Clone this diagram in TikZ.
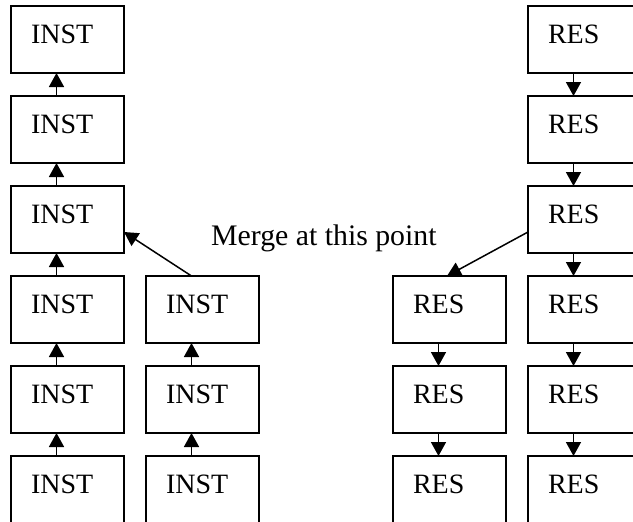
\documentclass[tikz,border=0pt]{standalone}
\usepackage{fontspec}
\setmainfont{Liberation Serif}
\usepackage{tikz}
\usetikzlibrary{arrows.meta}

\tikzset{
  cell/.style={draw, line width=1.8pt, anchor=north west, outer sep=0pt,
    minimum width=113pt, minimum height=67pt, inner xsep=20pt, inner ysep=19pt,
    text width=73pt, align=left, text height=18.5pt, text depth=10.5pt,
    font=\fontsize{28}{34}\selectfont},
  link/.style={->, line width=1.5pt}
}

\begin{document}
\begin{tikzpicture}[x=1pt, y=-1pt, >={Triangle[length=14pt, width=15pt]}]
    \useasboundingbox (0,0) rectangle (633,522);
    \clip (0,0) rectangle (633,522);
    % instruction columns
    \foreach \r in {1,...,6} \node[cell] (insta\r) at (11, {6+90*(\r-1)}) {INST};
    \foreach \r in {4,5,6} \node[cell] (instb\r) at (146, {6+90*(\r-1)}) {INST};
    % result columns
    \foreach \r in {4,5,6} \node[cell] (resa\r) at (393, {6+90*(\r-1)}) {RES};
    \foreach \r in {1,...,6} \node[cell] (resb\r) at (528, {6+90*(\r-1)}) {RES};
    % chains
    \foreach \r [evaluate=\r as \s using int(\r+1)] in {1,...,5}
        \draw[link] ([xshift=-11pt]insta\s.north) -- ([xshift=-11pt]insta\r.south);
    \foreach \r [evaluate=\r as \s using int(\r+1)] in {4,5}
        \draw[link] ([xshift=-11pt]instb\s.north) -- ([xshift=-11pt]instb\r.south);
    \foreach \r [evaluate=\r as \s using int(\r+1)] in {4,5}
        \draw[link] ([xshift=-11pt]resa\r.south) -- ([xshift=-11pt]resa\s.north);
    \foreach \r [evaluate=\r as \s using int(\r+1)] in {1,...,5}
        \draw[link] ([xshift=-11pt]resb\r.south) -- ([xshift=-11pt]resb\s.north);
    % merge
    \draw[link] ([xshift=-11pt]instb4.north) -- ([yshift=-12.5pt]insta3.east);
    \draw[link] ([yshift=-12.5pt]resb3.west) -- ([xshift=-2.5pt]resa4.north);
    \node[anchor=base west, inner sep=0pt, font=\fontsize{29.8}{36}\selectfont] (merge) at (211,245) {Merge at this point};
\end{tikzpicture}
\end{document}
